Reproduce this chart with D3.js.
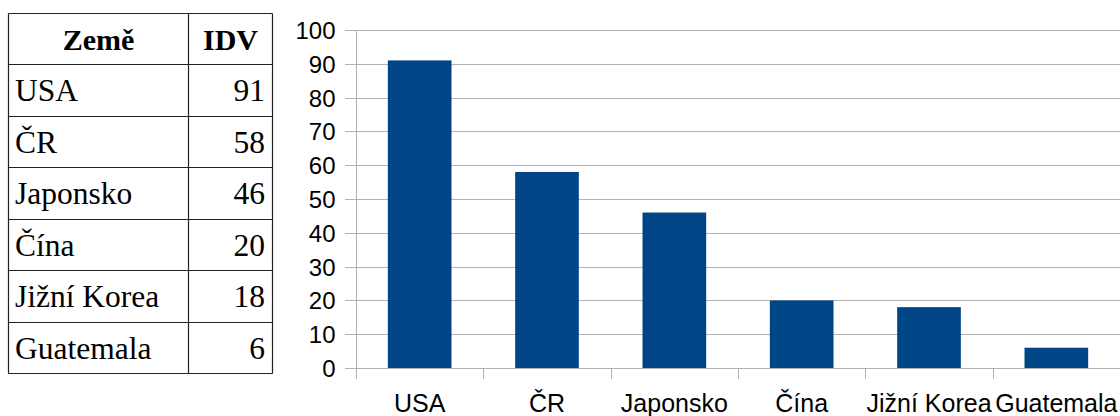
<!DOCTYPE html>
<html><head><meta charset="utf-8">
<script src="https://cdn.jsdelivr.net/npm/d3@7"></script>
<style>body{margin:0;background:#fff;}svg{display:block;}</style>
</head><body>
<svg id="c" width="1120" height="416"></svg>
<script>
const categories = ["USA", "ČR", "Japonsko", "Čína", "Jižní Korea", "Guatemala"];
const values = [91, 58, 46, 20, 18, 6];
const yTicks = [0, 10, 20, 30, 40, 50, 60, 70, 80, 90, 100];
const headers = ["Země", "IDV"];

const svg = d3.select("#c");

// ---- Table ----
const tX = [8.5, 188.5, 272.5];
const tTop = 13, rowH = 51.43;
const rows = categories.length + 1;
const tg = svg.append("g");
const rowY = d3.range(rows + 1).map(i => tTop + i * rowH);
tg.selectAll("line.h").data(rowY).join("line")
  .attr("x1", tX[0]).attr("x2", tX[2]).attr("y1", d => Math.round(d) + 0.5).attr("y2", d => Math.round(d) + 0.5)
  .attr("stroke", "#222").attr("stroke-width", 1.2);
tg.selectAll("line.v").data(tX).join("line").attr("class", "v")
  .attr("x1", d => d).attr("x2", d => d).attr("y1", tTop + 0.5).attr("y2", Math.round(rowY[rows]) + 0.5)
  .attr("stroke", "#222").attr("stroke-width", 1.2);
const serif = "'Liberation Serif', 'Times New Roman', serif";
tg.append("text").text(headers[0]).attr("x", (tX[0] + tX[1]) / 2).attr("y", tTop + 37)
  .attr("text-anchor", "middle").attr("font-family", serif).attr("font-weight", "bold").attr("font-size", 30);
tg.append("text").text(headers[1]).attr("x", (tX[1] + tX[2]) / 2).attr("y", tTop + 37)
  .attr("text-anchor", "middle").attr("font-family", serif).attr("font-weight", "bold").attr("font-size", 30);
categories.forEach((c, i) => {
  const y = tTop + (i + 1) * rowH + 37;
  tg.append("text").text(c).attr("x", 15).attr("y", y)
    .attr("font-family", serif).attr("font-size", 31.5).attr("fill", "#000");
  tg.append("text").text(values[i]).attr("x", 265).attr("y", y).attr("text-anchor", "end")
    .attr("font-family", serif).attr("font-size", 31.5).attr("fill", "#000");
});

// ---- Chart ----
const x0 = 356, x1 = 1120, yBot = 368, yTop = 30;
const x = d3.scaleBand().domain(categories).range([x0, x1]).paddingInner(0.5).paddingOuter(0.25);
const xb = d3.scaleBand().domain(categories).range([x0, x1]);
const y = d3.scaleLinear().domain([0, 100]).range([yBot, yTop]);
const sans = "'Liberation Sans', Arial, sans-serif";

// gridlines
svg.append("g").selectAll("line").data(yTicks).join("line")
  .attr("x1", 345).attr("x2", x1).attr("y1", d => Math.round(y(d)) + 0.5).attr("y2", d => Math.round(y(d)) + 0.5)
  .attr("stroke", "#b3b3b3").attr("stroke-width", 1);

// bars
svg.append("g").selectAll("rect").data(values).join("rect")
  .attr("x", (d, i) => x(categories[i])).attr("width", x.bandwidth())
  .attr("y", d => y(d)).attr("height", d => y(0) - y(d))
  .attr("fill", "#004586");

// y axis
const ya = svg.append("g").attr("transform", `translate(${x0 + 0.5},0)`)
  .call(d3.axisLeft(y).tickValues(yTicks).tickSize(0).tickPadding(21));
ya.select(".domain").remove();
ya.selectAll("text").attr("font-family", sans).attr("font-size", 24).attr("fill", "#000").attr("dy", "0.35em");
svg.append("line").attr("x1", x0 + 0.5).attr("x2", x0 + 0.5).attr("y1", yTop).attr("y2", 379)
  .attr("stroke", "#b3b3b3");

// x axis category ticks
const xTickPos = categories.map(c => xb(c)).concat([x1]);
svg.append("g").selectAll("line").data(xTickPos.slice(1)).join("line")
  .attr("x1", d => Math.round(d) + 0.5).attr("x2", d => Math.round(d) + 0.5).attr("y1", yBot).attr("y2", 379)
  .attr("stroke", "#b3b3b3");

const xa = svg.append("g").attr("transform", `translate(0,${yBot})`)
  .call(d3.axisBottom(xb).tickSize(0).tickPadding(0));
xa.select(".domain").remove();
xa.selectAll("text").attr("font-family", sans).attr("font-size", 25).attr("fill", "#000")
  .attr("dy", null).attr("y", 44);
</script>
</body></html>
